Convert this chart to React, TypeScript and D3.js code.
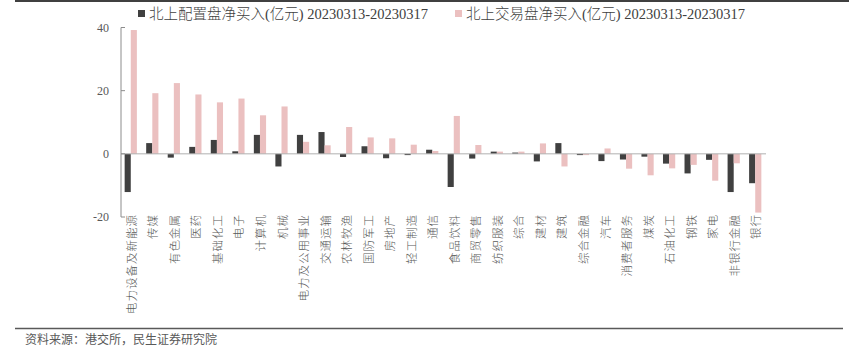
import React from "react";
import * as d3 from "d3";

const categories = [
  "电力设备及新能源", "传媒", "有色金属", "医药", "基础化工", "电子", "计算机", "机械",
  "电力及公用事业", "交通运输", "农林牧渔", "国防军工", "房地产", "轻工制造", "通信",
  "食品饮料", "商贸零售", "纺织服装", "综合", "建材", "建筑", "综合金融", "汽车",
  "消费者服务", "煤炭", "石油化工", "钢铁", "家电", "非银行金融", "银行",
];

const allocation = [
  -12.1, 3.4, -1.2, 2.2, 4.4, 0.8, 6.0, -4.0, 6.0, 6.9, -1.0, 2.4, -1.4, -0.4, 1.3,
  -10.5, -1.5, 0.7, 0.4, -2.4, 3.4, -0.4, -2.3, -1.8, -0.9, -3.1, -6.2, -1.9, -12.1, -9.3,
];

const trading = [
  39.2, 19.2, 22.4, 18.8, 16.3, 17.5, 12.2, 15.0, 3.8, 2.7, 8.5, 5.2, 4.9, 2.9, 0.9,
  12.0, 2.8, 0.7, 0.7, 3.3, -4.0, -0.4, 1.7, -4.7, -6.8, -4.6, -3.5, -8.5, -3.0, -18.6,
];

const yTicks = [-20, 0, 20, 40];
const seriesNames = [
  "北上配置盘净买入(亿元) 20230313-20230317",
  "北上交易盘净买入(亿元) 20230313-20230317",
];
const seriesColors = ["#404040", "#EBC0C0"];
const sourceText = "资料来源：港交所，民生证券研究院";

export default function App() {
  const W = 849, H = 355;
  const x0 = d3.scaleBand<string>().domain(categories).range([120, 766]).paddingInner(0);
  const bw = x0.bandwidth();
  const x1 = d3.scaleBand<string>().domain(["a", "b"]).range([0, bw]).paddingInner(0).paddingOuter(0.76);
  const y = d3.scaleLinear().domain([-20, 40]).range([217, 27.5]);
  const zero = y(0);
  const serif = "'Liberation Serif', 'Noto Sans CJK SC', serif";
  const cjk = "'Noto Sans CJK SC', sans-serif";
  const series = [allocation, trading];
  const keys = ["a", "b"];

  return (
    <svg width={W} height={H} style={{ position: "absolute", left: 0, top: 0, background: "#fff" }}>
      <line x1={15} x2={849} y1={1} y2={1} stroke="#404040" strokeWidth={2} />
      {/* legend */}
      <rect x={138} y={10} width={7} height={7} fill={seriesColors[0]} />
      <text x={149} y={13.5} dy="0.35em" fontSize={14.5} fontFamily={serif} fontWeight={300} fill="#404040">{seriesNames[0]}</text>
      <rect x={455} y={10} width={7} height={7} fill={seriesColors[1]} />
      <text x={466} y={13.5} dy="0.35em" fontSize={14.5} fontFamily={serif} fontWeight={300} fill="#404040">{seriesNames[1]}</text>

      {/* bars */}
      {categories.map((c, i) => (
        <g key={c} transform={`translate(${x0(c)},0)`}>
          {series.map((s, k) => {
            const v = s[i];
            const yy = Math.min(y(v), zero);
            const h = Math.abs(y(v) - zero);
            return (
              <rect key={k} x={x1(keys[k])} y={yy} width={x1.bandwidth()} height={h} fill={seriesColors[k]} />
            );
          })}
        </g>
      ))}

      {/* zero line */}
      <line x1={121} x2={766} y1={zero} y2={zero} stroke="#b0b0b0" strokeWidth={1} />
      {/* y axis */}
      <line x1={121} x2={121} y1={y(40)} y2={y(-20)} stroke="#8c8c8c" strokeWidth={1} />
      {yTicks.map((t) => (
        <g key={t}>
          <line x1={121} x2={125} y1={y(t)} y2={y(t)} stroke="#8c8c8c" strokeWidth={1} />
          <text x={109} y={y(t)} dy="0.35em" textAnchor="end" fontSize={12} fontFamily={serif} fill="#595959">{t}</text>
        </g>
      ))}

      {/* category labels */}
      {categories.map((c) => {
        const cx = (x0(c) as number) + bw / 2 + 1;
        return (
          <text key={c} transform={`translate(${cx},214) rotate(-90)`} dy="0.35em" textAnchor="end"
            fontSize={11.5} fontFamily={cjk} fontWeight={300} fill="#595959" letterSpacing={1}>{c}</text>
        );
      })}

      <line x1={15} x2={843} y1={328.5} y2={328.5} stroke="#595959" strokeWidth={1.5} />
      <text x={25} y={339.5} dy="0.35em" fontSize={12} fontFamily={cjk} fill="#595959">{sourceText}</text>
    </svg>
  );
}
